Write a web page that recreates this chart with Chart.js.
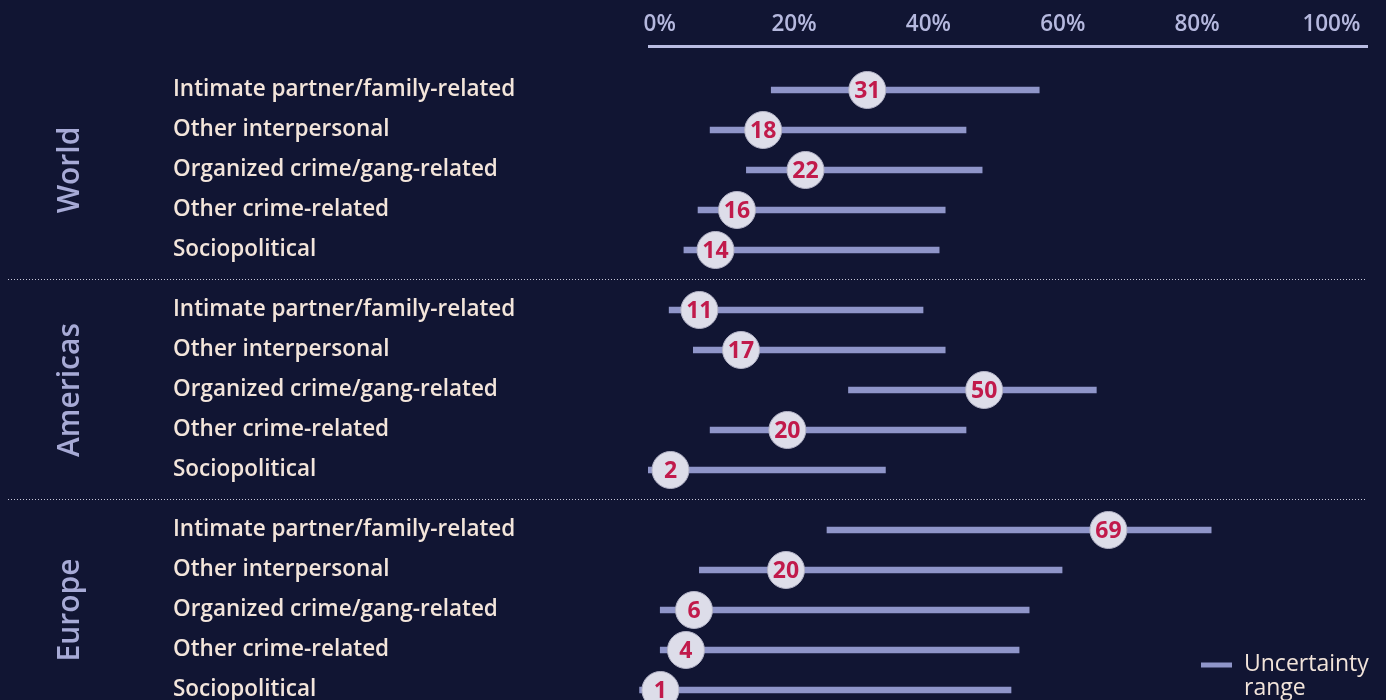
<!DOCTYPE html>
<html>
<head>
<meta charset="utf-8">
<script src="https://cdn.jsdelivr.net/npm/chart.js@4.4.1/dist/chart.umd.min.js"></script>
<style>
  html, body { margin: 0; padding: 0; background: #111533; }
  #wrap { width: 1386px; height: 700px; position: relative; }
</style>
</head>
<body>
<div id="wrap"><canvas id="c"></canvas></div>
<script>
// ---- data ----
const regions = ['World', 'Americas', 'Europe'];
const categories = ['Intimate partner/family-related', 'Other interpersonal', 'Organized crime/gang-related', 'Other crime-related', 'Sociopolitical'];
const tickValues = [0, 20, 40, 60, 80, 100];

// printed estimates in the circles (%)
const worldLabel    = [31, 18, 22, 16, 14];
const americasLabel = [11, 17, 50, 20, 2];
const europeLabel   = [69, 20, 6, 4, 1];

// circle positions as drawn (%)
const worldPoint    = [30.9, 15.4, 21.7, 11.5, 8.3];
const americasPoint = [5.9, 12.1, 48.3, 19.0, 1.6];
const europePoint   = [66.8, 18.8, 5.1, 3.9, 0.1];

// uncertainty ranges (%)
const worldLow     = [16.6, 7.5, 12.9, 5.7, 3.6];
const worldHigh    = [56.5, 45.6, 48.0, 42.5, 41.6];
const americasLow  = [1.4, 5.0, 28.1, 7.5, -1.7];
const americasHigh = [39.2, 42.5, 65.0, 45.6, 33.6];
const europeLow    = [24.9, 5.9, 0, 0, -3.0];
const europeHigh   = [82.1, 59.9, 55.0, 53.5, 52.3];

// ---- build ----
const GROUP_STEP = 5.5; // 5 rows + half-row gap
const lows = [worldLow, americasLow, europeLow];
const highs = [worldHigh, americasHigh, europeHigh];
const points = [worldPoint, americasPoint, europePoint];
const pointLabels = [worldLabel, americasLabel, europeLabel];

const rowPos = [];
const barData = [], dotData = [], dotText = [];
regions.forEach((r, g) => {
  categories.forEach((c, i) => {
    const p = g * GROUP_STEP + i;
    rowPos.push(p);
    barData.push({ y: p, x: [lows[g][i], highs[g][i]] });
    dotData.push({ y: p, x: points[g][i] });
    dotText.push(String(pointLabels[g][i]));
  });
});

const BG = '#111533';
const BAR = '#8f95c9';
const FONT = "'Open Sans', 'Noto Sans', sans-serif";

const bgPlugin = {
  id: 'bg',
  beforeDraw(chart) {
    const { ctx, width, height } = chart;
    ctx.save(); ctx.fillStyle = BG; ctx.fillRect(0, 0, width, height); ctx.restore();
  }
};

const decoPlugin = {
  id: 'deco',
  beforeDatasetsDraw(chart) {
    const { ctx } = chart;
    const y = chart.scales.y;
    ctx.save();
    // dotted separators between groups
    ctx.strokeStyle = '#c9c9da';
    ctx.lineWidth = 1;
    ctx.setLineDash([1, 2]);
    for (let g = 1; g < regions.length; g++) {
      const mid = ((g - 1) * GROUP_STEP + 4 + g * GROUP_STEP) / 2;
      const py = Math.round(y.getPixelForValue(mid)) - 0.5;
      ctx.beginPath(); ctx.moveTo(8, py); ctx.lineTo(1366, py); ctx.stroke();
    }
    ctx.setLineDash([]);
    // rotated region labels
    ctx.fillStyle = '#a7aad6';
    ctx.font = `600 30px ${FONT}`;
    ctx.textAlign = 'center';
    ctx.textBaseline = 'middle';
    regions.forEach((r, g) => {
      const py = y.getPixelForValue(g * GROUP_STEP + 2);
      ctx.save();
      ctx.translate(70, py);
      ctx.rotate(-Math.PI / 2);
      ctx.fillText(r, 0, 0);
      ctx.restore();
    });
    ctx.restore();
  },
  afterDatasetsDraw(chart) {
    const { ctx } = chart;
    const meta = chart.getDatasetMeta(1);
    ctx.save();
    ctx.fillStyle = '#c11a4b';
    ctx.font = `700 23px ${FONT}`;
    ctx.textAlign = 'center';
    ctx.textBaseline = 'middle';
    meta.data.forEach((el, i) => {
      ctx.fillText(dotText[i], el.x, el.y + 1);
    });
    // legend
    const lx = chart.chartArea.right - 166;
    const ly = 665;
    ctx.strokeStyle = BAR;
    ctx.lineWidth = 5;
    ctx.beginPath(); ctx.moveTo(lx, ly); ctx.lineTo(lx + 31, ly); ctx.stroke();
    ctx.fillStyle = '#f2e4da';
    ctx.font = `500 23px ${FONT}`;
    ctx.textAlign = 'left';
    const words = chart.data.datasets[0].label.split(' ');
    ctx.fillText(words[0], lx + 43, ly - 1);
    ctx.fillText(words[1], lx + 43, ly + 23);
    ctx.restore();
  }
};

new Chart(document.getElementById('c'), {
  type: 'scatter',
  data: {
    datasets: [
      {
        type: 'bar',
        label: 'Uncertainty range',
        indexAxis: 'y',
        data: barData,
        backgroundColor: BAR,
        borderWidth: 0,
        barThickness: 6,
        clip: false,
        order: 2
      },
      {
        type: 'scatter',
        label: 'Estimate',
        data: dotData,
        pointRadius: 18.5,
        pointHoverRadius: 18.5,
        backgroundColor: '#dddde9',
        borderColor: '#b4b4c8',
        borderWidth: 1,
        clip: false,
        order: 1
      }
    ]
  },
  options: {
    responsive: true,
    maintainAspectRatio: false,
    animation: false,
    events: [],
    layout: { autoPadding: false, padding: { left: 173, right: 19, top: 0, bottom: 0 } },
    plugins: { legend: { display: false }, tooltip: { enabled: false } },
    scales: {
      x: {
        type: 'linear',
        position: 'top',
        offset: false,
        min: -1.6,
        max: 105.3,
        afterBuildTicks: (s) => { s.ticks = tickValues.map(v => ({ value: v })); },
        afterFit: (s) => { s.height = 46; s.paddingLeft = 0; s.paddingRight = 0; },
        grid: { display: true, offset: false, color: 'transparent', drawTicks: false },
        border: { display: true, color: '#b9bce2', width: 3 },
        ticks: {
          padding: 8,
          color: '#b5b8de',
          font: { family: FONT, size: 22.5, weight: '600' },
          callback: (v) => v + '%',
          maxRotation: 0,
          autoSkip: false
        }
      },
      y: {
        type: 'linear',
        reverse: true,
        offset: false,
        min: -1.1,
        max: 15.25,
        afterBuildTicks: (s) => { s.ticks = rowPos.map(v => ({ value: v })); },
        afterFit: (s) => { s.width = 476; s.paddingTop = 0; s.paddingBottom = 0; },
        grid: { display: false, offset: false, drawTicks: false },
        border: { display: false },
        ticks: {
          crossAlign: 'far',
          padding: 0,
          color: '#f3e5db',
          font: { family: FONT, size: 22.5, weight: '600' },
          autoSkip: false,
          callback: (v, i) => categories[i % categories.length]
        }
      }
    }
  },
  plugins: [bgPlugin, decoPlugin]
});
</script>
</body>
</html>
